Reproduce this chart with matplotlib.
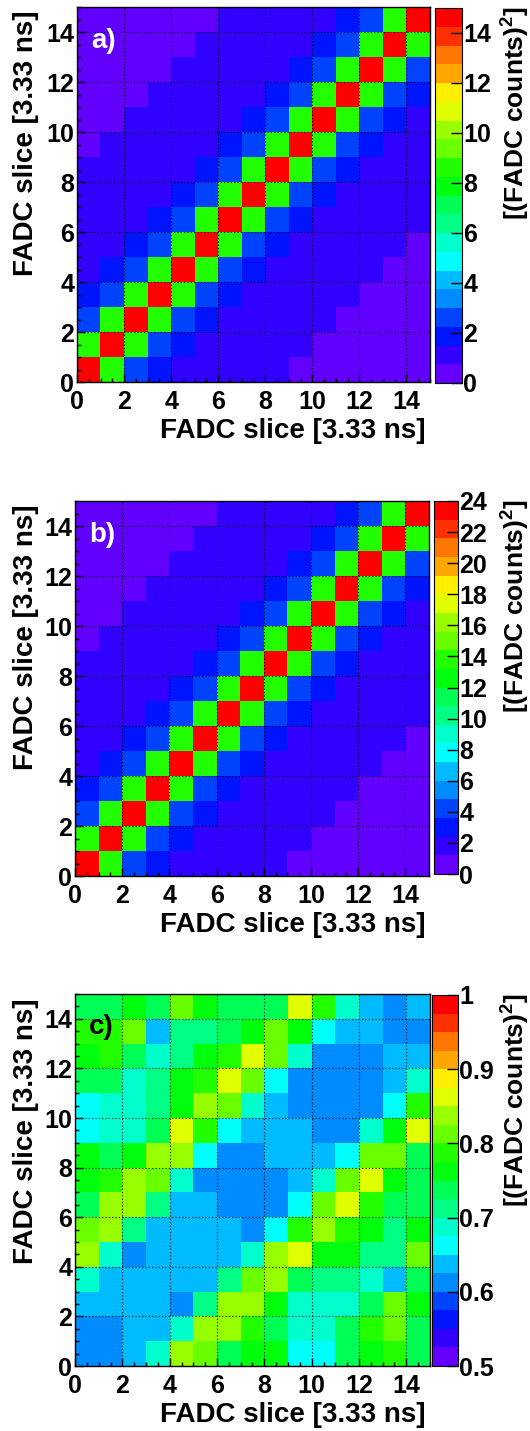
#three covariance-like maps of FADC slices, ROOT style
import colorsys
import numpy as np
import matplotlib
matplotlib.use('Agg')
import matplotlib.pyplot as plt
from matplotlib.colors import ListedColormap, BoundaryNorm
from matplotlib.ticker import MultipleLocator

plt.rcParams['font.family'] = ['Liberation Sans', 'DejaVu Sans']
plt.rcParams['font.weight'] = 'bold'
plt.rcParams['mathtext.fontset'] = 'custom'
plt.rcParams['mathtext.bf'] = 'Liberation Sans:bold'
plt.rcParams['mathtext.rm'] = 'Liberation Sans:bold'

#dati, righe dall'alto (slice 14) al basso (slice 0)
map_a = [
    [0.4, 0.4, 0.4, 0.4, 0.4, 0.4, 1.1, 1.1, 1.1, 1.1, 1.1, 1.9, 2.6, 8.6, 14.6],
    [0.4, 0.4, 0.4, 0.4, 0.4, 1.1, 1.1, 1.1, 1.1, 1.1, 1.9, 2.6, 8.6, 14.6, 8.6],
    [0.4, 0.4, 0.4, 0.4, 1.1, 1.1, 1.1, 1.1, 1.1, 1.9, 2.6, 8.6, 14.6, 8.6, 2.6],
    [0.4, 0.4, 0.4, 1.1, 1.1, 1.1, 1.1, 1.1, 1.9, 2.6, 8.6, 14.6, 8.6, 2.6, 1.9],
    [0.4, 0.4, 1.1, 1.1, 1.1, 1.1, 1.1, 1.9, 2.6, 8.6, 14.6, 8.6, 2.6, 1.9, 1.1],
    [0.4, 1.1, 1.1, 1.1, 1.1, 1.1, 1.9, 2.6, 8.6, 14.6, 8.6, 2.6, 1.9, 1.1, 1.1],
    [1.1, 1.1, 1.1, 1.1, 1.1, 1.9, 2.6, 8.6, 14.6, 8.6, 2.6, 1.9, 1.1, 1.1, 1.1],
    [1.1, 1.1, 1.1, 1.1, 1.9, 2.6, 8.6, 14.6, 8.6, 2.6, 1.9, 1.1, 1.1, 1.1, 1.1],
    [1.1, 1.1, 1.1, 1.9, 2.6, 8.6, 14.6, 8.6, 2.6, 1.9, 1.1, 1.1, 1.1, 1.1, 1.1],
    [1.1, 1.1, 1.9, 2.6, 8.6, 14.6, 8.6, 2.6, 1.9, 1.1, 1.1, 1.1, 1.1, 1.1, 0.4],
    [1.1, 1.9, 2.6, 8.6, 14.6, 8.6, 2.6, 1.9, 1.1, 1.1, 1.1, 1.1, 1.1, 0.4, 0.4],
    [1.9, 2.6, 8.6, 14.6, 8.6, 2.6, 1.9, 1.1, 1.1, 1.1, 1.1, 1.1, 0.4, 0.4, 0.4],
    [2.6, 8.6, 14.6, 8.6, 2.6, 1.9, 1.1, 1.1, 1.1, 1.1, 1.1, 0.4, 0.4, 0.4, 0.4],
    [8.6, 14.6, 8.6, 2.6, 1.9, 1.1, 1.1, 1.1, 1.1, 1.1, 0.4, 0.4, 0.4, 0.4, 0.4],
    [14.6, 8.6, 2.6, 1.9, 1.1, 1.1, 1.1, 1.1, 1.1, 0.4, 0.4, 0.4, 0.4, 0.4, 0.4],
]

map_b = [
    [0.6, 0.6, 0.6, 0.6, 0.6, 0.6, 1.8, 1.8, 1.8, 1.8, 1.8, 3.0, 4.2, 13.8, 23.4],
    [0.6, 0.6, 0.6, 0.6, 0.6, 1.8, 1.8, 1.8, 1.8, 1.8, 3.0, 4.2, 13.8, 23.4, 13.8],
    [0.6, 0.6, 0.6, 0.6, 1.8, 1.8, 1.8, 1.8, 1.8, 3.0, 4.2, 13.8, 23.4, 13.8, 4.2],
    [0.6, 0.6, 0.6, 1.8, 1.8, 1.8, 1.8, 1.8, 3.0, 4.2, 13.8, 23.4, 13.8, 4.2, 3.0],
    [0.6, 0.6, 1.8, 1.8, 1.8, 1.8, 1.8, 3.0, 4.2, 13.8, 23.4, 13.8, 4.2, 3.0, 1.8],
    [0.6, 1.8, 1.8, 1.8, 1.8, 1.8, 3.0, 4.2, 13.8, 23.4, 13.8, 4.2, 3.0, 1.8, 1.8],
    [1.8, 1.8, 1.8, 1.8, 1.8, 3.0, 4.2, 13.8, 23.4, 13.8, 4.2, 3.0, 1.8, 1.8, 1.8],
    [1.8, 1.8, 1.8, 1.8, 3.0, 4.2, 13.8, 23.4, 13.8, 4.2, 3.0, 1.8, 1.8, 1.8, 1.8],
    [1.8, 1.8, 1.8, 3.0, 4.2, 13.8, 23.4, 13.8, 4.2, 3.0, 1.8, 1.8, 1.8, 1.8, 1.8],
    [1.8, 1.8, 3.0, 4.2, 13.8, 23.4, 13.8, 4.2, 3.0, 1.8, 1.8, 1.8, 1.8, 1.8, 0.6],
    [1.8, 3.0, 4.2, 13.8, 23.4, 13.8, 4.2, 3.0, 1.8, 1.8, 1.8, 1.8, 1.8, 0.6, 0.6],
    [3.0, 4.2, 13.8, 23.4, 13.8, 4.2, 3.0, 1.8, 1.8, 1.8, 1.8, 1.8, 0.6, 0.6, 0.6],
    [4.2, 13.8, 23.4, 13.8, 4.2, 3.0, 1.8, 1.8, 1.8, 1.8, 1.8, 0.6, 0.6, 0.6, 0.6],
    [13.8, 23.4, 13.8, 4.2, 3.0, 1.8, 1.8, 1.8, 1.8, 1.8, 0.6, 0.6, 0.6, 0.6, 0.6],
    [23.4, 13.8, 4.2, 3.0, 1.8, 1.8, 1.8, 1.8, 1.8, 0.6, 0.6, 0.6, 0.6, 0.6, 0.6],
]

map_c = [
    [0.74, 0.74, 0.76, 0.74, 0.81, 0.76, 0.74, 0.74, 0.74, 0.86, 0.79, 0.69, 0.64, 0.61, 0.64],
    [0.79, 0.79, 0.81, 0.64, 0.71, 0.71, 0.74, 0.76, 0.81, 0.76, 0.66, 0.64, 0.64, 0.61, 0.61],
    [0.76, 0.79, 0.74, 0.69, 0.71, 0.76, 0.79, 0.86, 0.81, 0.69, 0.61, 0.61, 0.61, 0.64, 0.64],
    [0.74, 0.74, 0.69, 0.71, 0.76, 0.79, 0.86, 0.81, 0.66, 0.61, 0.61, 0.61, 0.61, 0.64, 0.69],
    [0.66, 0.69, 0.69, 0.71, 0.76, 0.84, 0.81, 0.69, 0.64, 0.61, 0.61, 0.61, 0.61, 0.66, 0.79],
    [0.66, 0.69, 0.69, 0.74, 0.86, 0.79, 0.66, 0.64, 0.64, 0.64, 0.61, 0.61, 0.69, 0.76, 0.86],
    [0.76, 0.74, 0.76, 0.84, 0.84, 0.66, 0.61, 0.61, 0.64, 0.64, 0.64, 0.66, 0.81, 0.81, 0.74],
    [0.76, 0.79, 0.84, 0.81, 0.69, 0.61, 0.61, 0.61, 0.61, 0.64, 0.69, 0.81, 0.86, 0.76, 0.74],
    [0.74, 0.84, 0.84, 0.71, 0.64, 0.64, 0.61, 0.61, 0.61, 0.66, 0.81, 0.86, 0.79, 0.74, 0.74],
    [0.81, 0.84, 0.71, 0.64, 0.64, 0.64, 0.64, 0.61, 0.66, 0.79, 0.84, 0.79, 0.76, 0.71, 0.76],
    [0.84, 0.69, 0.61, 0.64, 0.64, 0.64, 0.64, 0.69, 0.84, 0.86, 0.76, 0.76, 0.71, 0.71, 0.81],
    [0.69, 0.64, 0.64, 0.64, 0.64, 0.64, 0.71, 0.81, 0.84, 0.74, 0.71, 0.71, 0.69, 0.64, 0.74],
    [0.64, 0.64, 0.64, 0.64, 0.61, 0.71, 0.84, 0.84, 0.76, 0.69, 0.69, 0.69, 0.74, 0.81, 0.76],
    [0.61, 0.61, 0.64, 0.64, 0.69, 0.84, 0.84, 0.79, 0.74, 0.69, 0.69, 0.74, 0.79, 0.81, 0.74],
    [0.61, 0.61, 0.64, 0.69, 0.84, 0.81, 0.74, 0.76, 0.76, 0.66, 0.66, 0.74, 0.76, 0.79, 0.74],
]

z_ranges = [(0, 15), (0, 24), (0.5, 1.0)]
cbar_ticks = [[0, 2, 4, 6, 8, 10, 12, 14],
              [0, 2, 4, 6, 8, 10, 12, 14, 16, 18, 20, 22, 24],
              [0.5, 0.6, 0.7, 0.8, 0.9, 1.0]]
cbar_labels = [['0', '2', '4', '6', '8', '10', '12', '14'],
               ['0', '2', '4', '6', '8', '10', '12', '14', '16', '18', '20', '22', '24'],
               ['0.5', '0.6', '0.7', '0.8', '0.9', '1']]
letters = ['a)', 'b)', 'c)']
axis_title = 'FADC slice [3.33 ns]'
z_title = r'[(FADC counts)$^{\mathbf{2}}$]'

#palette ROOT (pretty palette, 20 livelli)
def root_palette(n=20):
    cols = []
    for c in range(n):
        i = int((c + 0.99) * 50 / n)
        hue = 280 - (i + 1) * 280.0 / 50
        cols.append(colorsys.hls_to_rgb(hue / 360.0, 0.5, 1.0))
    return ListedColormap(cols)

cmap = root_palette(20)

W, H = 530, 1431
fig = plt.figure(figsize=(W / 100, H / 100), dpi=100)

def rect(x0, y0, x1, y1):
    return [x0 / W, 1 - y1 / H, (x1 - x0) / W, (y1 - y0) / H]

ax_boxes = [(77, 7, 430, 382), (75, 501, 429, 876), (75, 994, 430, 1366)]
cb_boxes = [(435, 8, 462, 383), (434, 501, 458, 874), (432, 995, 458, 1366)]
letter_colors = ['white', 'white', 'black']

for k, data in enumerate([map_a, map_b, map_c]):
    ax = fig.add_axes(rect(*ax_boxes[k]))
    cax = fig.add_axes(rect(*cb_boxes[k]))
    zmin, zmax = z_ranges[k]
    norm = BoundaryNorm(np.linspace(zmin, zmax, 21), cmap.N)
    im = ax.imshow(np.array(data), origin='upper', extent=(0, 15, 0, 15),
                   aspect='auto', interpolation='nearest', cmap=cmap, norm=norm)
    ax.set_xlim(0, 15)
    ax.set_ylim(0, 15)
    ax.xaxis.set_major_locator(MultipleLocator(2))
    ax.xaxis.set_minor_locator(MultipleLocator(0.5))
    ax.yaxis.set_major_locator(MultipleLocator(2))
    ax.yaxis.set_minor_locator(MultipleLocator(0.5))
    ax.tick_params(which='both', direction='in', top=False, right=False, width=1)
    ax.tick_params(which='major', length=6, labelsize=18)
    ax.tick_params(axis='x', which='major', pad=6)
    ax.tick_params(axis='y', which='major', pad=2)
    ax.tick_params(which='minor', length=3)
    ax.grid(True, which='major', color='black', linestyle=(0, (1, 2)), linewidth=0.8)
    ax.set_axisbelow(False)
    for sp in ax.spines.values():
        sp.set_linewidth(1)

    ax.text(0.6, 13.65, letters[k], color=letter_colors[k], fontsize=20,
            fontweight='bold', ha='left', va='center')

    x0, y0, x1, y1 = ax_boxes[k]
    fig.text(26 / W, 1 - (y0 + 4) / H, axis_title, rotation=90, fontsize=20,
             fontweight='bold', ha='center', va='top')
    fig.text(426 / W, 1 - (y1 + 49) / H, axis_title, fontsize=20,
             fontweight='bold', ha='right', va='center')

    cb = fig.colorbar(im, cax=cax, ticks=cbar_ticks[k])
    cb.ax.set_yticklabels(cbar_labels[k])
    cb.ax.minorticks_off()
    cb.ax.tick_params(direction='in', length=8, width=1, pad=1, labelsize=18)
    cb.outline.set_linewidth(0.8)

    cx0, cy0, cx1, cy1 = cb_boxes[k]
    fig.text(515 / W, 1 - (cy0 - 2) / H, z_title, rotation=90, fontsize=19,
             fontweight='bold', ha='center', va='top')

fig.savefig('out.png', dpi=100)
